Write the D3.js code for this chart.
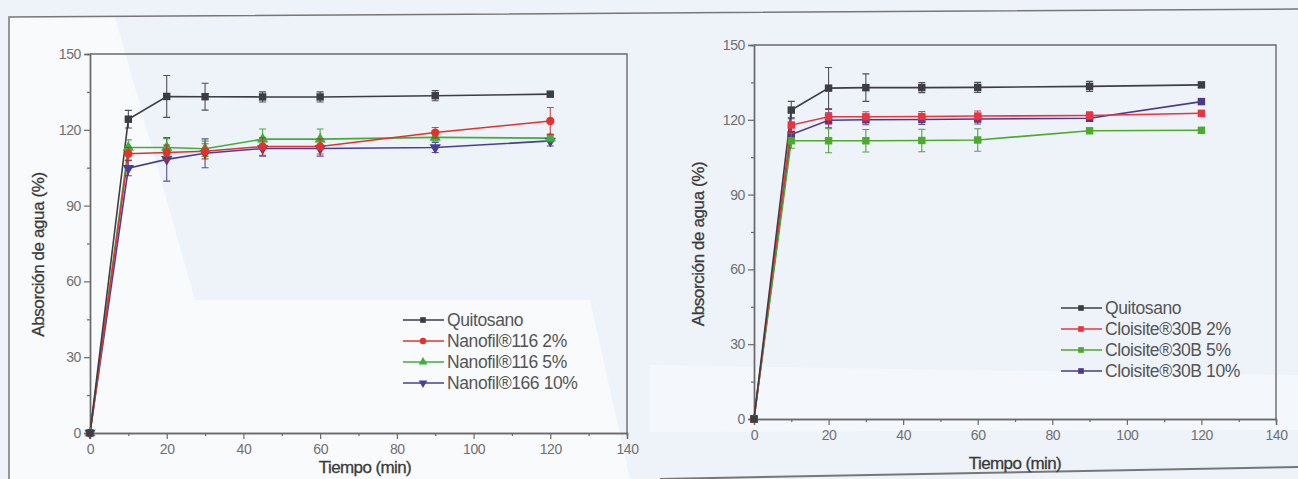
<!DOCTYPE html>
<html><head><meta charset="utf-8">
<script src="https://cdn.jsdelivr.net/npm/d3@7"></script>
<style>body{margin:0;background:#eff4fa;}svg{display:block;}</style>
</head><body>
<svg id="c" width="1298" height="479"></svg>
<script>
// ---- data ----
const times = [0, 10, 20, 30, 45, 60, 90, 120];
const xTicks = [0, 20, 40, 60, 80, 100, 120, 140];
const yTicks = [0, 30, 60, 90, 120, 150];

const leftNames = ["Quitosano", "Nanofil®116 2%", "Nanofil®116 5%", "Nanofil®166 10%"];
const leftQuit = [0, 124.2, 133.2, 133.1, 133.0, 133.0, 133.5, 134.1];
const leftQuitErr = [0, 3.5, 8.3, 5.3, 2, 2, 2, 1];
const leftN2 = [0, 110.5, 111, 111.5, 113.4, 113.4, 118.9, 123.5];
const leftN2Err = [0, 2.5, 3, 3, 3.5, 3, 2, 5.3];
const leftN5 = [0, 113, 113, 112.5, 116.3, 116.3, 117, 116.7];
const leftN5Err = [0, 3, 3.5, 3, 4, 4, 1.5, 1.5];
const leftN10 = [0, 104.8, 108.3, 110.7, 112.6, 112.6, 113, 115.6];
const leftN10Err = [0, 3, 8.6, 5.7, 3, 3, 2, 2];

const rightNames = ["Quitosano", "Cloisite®30B 2%", "Cloisite®30B 5%", "Cloisite®30B 10%"];
const rightQuit = [0, 123.9, 132.7, 132.9, 132.9, 133.0, 133.4, 134.0];
const rightQuitErr = [0, 3.5, 8.3, 5.5, 2, 2, 2, 1];
const rightC2 = [0, 117.9, 121.2, 121.2, 121.3, 121.5, 121.7, 122.6];
const rightC2Err = [0, 3, 3, 2, 2, 2, 1.5, 1];
const rightC5 = [0, 111.6, 111.6, 111.6, 111.7, 111.9, 115.6, 115.8];
const rightC5Err = [0, 3, 4.8, 4.5, 4.5, 4.5, 1, 1];
const rightC10 = [0, 114.1, 119.8, 120.0, 120.1, 120.3, 120.6, 127.3];
const rightC10Err = [0, 3, 3, 2, 2, 2, 1, 1];

const colors = ["#3d3d45", "#e5302c", "#3fae3a", "#4a3d9a"];
const FONT = "Liberation Sans, Arial, sans-serif";

const svg = d3.select("#c");

// background tint
svg.append("rect").attr("x",0).attr("y",0).attr("width",1298).attr("height",479).attr("fill","#eef3f9");
svg.append("path").attr("d","M9,17 L115,17 L195,300 L590,300 L630,479 L9,479 Z").attr("fill","#f8fafc");
svg.append("path").attr("d","M650,365 L1298,375 L1298,430 L650,432 Z").attr("fill","#f4f7fb");

// outer frame (slightly tilted scan)
svg.append("path").attr("d","M9,479 L9,17 L1298,9").attr("fill","none").attr("stroke","#777").attr("stroke-width",1.5);
svg.append("path").attr("d","M660,479 L1298,467").attr("fill","none").attr("stroke","#777").attr("stroke-width",2);

function drawChart(cfg){
  const g = svg.append("g");
  const x = d3.scaleLinear().domain([0,140]).range([cfg.x0, cfg.x1]);
  const y = d3.scaleLinear().domain([0,150]).range([cfg.y0, cfg.y1]);
  g.append("path").attr("d",`M${cfg.x0},${cfg.y1} L${cfg.x1},${cfg.y1} L${cfg.x1},${cfg.y0}`)
    .attr("fill","none").attr("stroke","#6a6a6a").attr("stroke-width",1.4);
  const xa = g.append("g").attr("transform",`translate(0,${cfg.y0})`)
    .call(d3.axisBottom(x).tickValues(xTicks).tickSize(6).tickPadding(5).tickFormat(d3.format("d")));
  const xm = g.append("g").attr("transform",`translate(0,${cfg.y0})`)
    .call(d3.axisBottom(x).tickValues(d3.range(10,140,20)).tickSize(3).tickFormat(""));
  const ya = g.append("g").attr("transform",`translate(${cfg.x0},0)`)
    .call(d3.axisLeft(y).tickValues(yTicks).tickSize(6).tickPadding(3).tickFormat(d3.format("d")));
  const ym = g.append("g").attr("transform",`translate(${cfg.x0},0)`)
    .call(d3.axisLeft(y).tickValues(d3.range(15,150,30)).tickSize(3).tickFormat(""));
  [xa,xm,ya,ym].forEach(a=>{
    a.select(".domain").attr("stroke","#6a6a6a").attr("stroke-width",1.4);
    a.selectAll(".tick line").attr("stroke","#6a6a6a").attr("stroke-width",1.2);
    a.selectAll("text").attr("fill","#707070").attr("font-family",FONT)
      .attr("font-size",14).attr("letter-spacing","-0.4px");
  });
  g.append("text").attr("transform",`translate(${cfg.ylx},${(cfg.y0+cfg.y1)/2 + cfg.yly}) rotate(-90)`)
    .attr("text-anchor","middle").attr("font-family",FONT)
    .attr("font-size",17).attr("fill","#3a3a3a").attr("stroke","#3a3a3a").attr("stroke-width",0.3)
    .attr("letter-spacing","-0.4px").text("Absorción de agua (%)");
  g.append("text").attr("x",cfg.xlx).attr("y",cfg.xly).attr("text-anchor","middle")
    .attr("font-family",FONT).attr("font-size",17).attr("stroke","#3a3a3a").attr("stroke-width",0.3)
    .attr("fill","#3a3a3a").attr("letter-spacing","-0.6px").text("Tiempo (min)");

  const line = d3.line().x((d,i)=>x(times[i])).y(d=>y(d));
  cfg.series.slice().reverse().forEach(s=>{
    g.append("path").datum(s.v).attr("d",line).attr("fill","none")
      .attr("stroke",s.c).attr("stroke-width",1.6);
  });
  cfg.series.slice().reverse().forEach(s=>{
    s.v.forEach((v,i)=>{
      const e = s.e[i]; if(!e) return;
      const cx = x(times[i]);
      const eb = d3.path();
      eb.moveTo(cx, y(v+e)); eb.lineTo(cx, y(v-e));
      eb.moveTo(cx-3.5, y(v+e)); eb.lineTo(cx+3.5, y(v+e));
      eb.moveTo(cx-3.5, y(v-e)); eb.lineTo(cx+3.5, y(v-e));
      g.append("path").attr("d",eb.toString()).attr("stroke",d3.color(s.c).darker(0.4)).attr("stroke-width",1.1).attr("fill","none").attr("opacity",0.85);
    });
    g.selectAll(null).data(s.v).enter().append("path")
      .attr("transform",(d,i)=>`translate(${x(times[i])},${y(d)})${s.down ? " rotate(180)" : ""}`)
      .attr("d",d3.symbol().type(s.sym).size(s.size||55))
      .attr("fill",s.c);
  });
  cfg.names.forEach((n,i)=>{
    const ly = cfg.ly + i*cfg.lsp;
    const s = cfg.series[i];
    g.append("line").attr("x1",cfg.lx).attr("x2",cfg.lx+41).attr("y1",ly).attr("y2",ly)
      .attr("stroke",s.c).attr("stroke-width",1.4);
    g.append("path").attr("transform",`translate(${cfg.lx+20},${ly})${s.down?" rotate(180)":""}`)
      .attr("d",d3.symbol().type(s.sym).size(32)).attr("fill",s.c);
    g.append("text").attr("x",cfg.lx+44).attr("y",ly+6).attr("font-family",FONT)
      .attr("font-size",17.5).attr("fill","#555").attr("letter-spacing","-0.4px").text(n);
  });
}

drawChart({
  x0:90, x1:627, y0:433, y1:54, ylx:44, yly:11, xlx:365, xly:473,
  names:leftNames, lx:403, ly:320, lsp:21,
  series:[
    {v:leftQuit, e:leftQuitErr, c:colors[0], sym:d3.symbolSquare},
    {v:leftN2, e:leftN2Err, c:colors[1], sym:d3.symbolCircle},
    {v:leftN5, e:leftN5Err, c:colors[2], sym:d3.symbolTriangle},
    {v:leftN10, e:leftN10Err, c:colors[3], sym:d3.symbolTriangle, down:true}
  ]
});
drawChart({
  x0:754, x1:1276, y0:419, y1:45, ylx:704, yly:12, xlx:1015, xly:469,
  names:rightNames, lx:1061, ly:308, lsp:21,
  series:[
    {v:rightQuit, e:rightQuitErr, c:colors[0], sym:d3.symbolSquare},
    {v:rightC2, e:rightC2Err, c:"#ec3340", sym:d3.symbolSquare},
    {v:rightC5, e:rightC5Err, c:"#4caa2c", sym:d3.symbolSquare},
    {v:rightC10, e:rightC10Err, c:"#4b3a8c", sym:d3.symbolSquare}
  ]
});
</script>
</body></html>
